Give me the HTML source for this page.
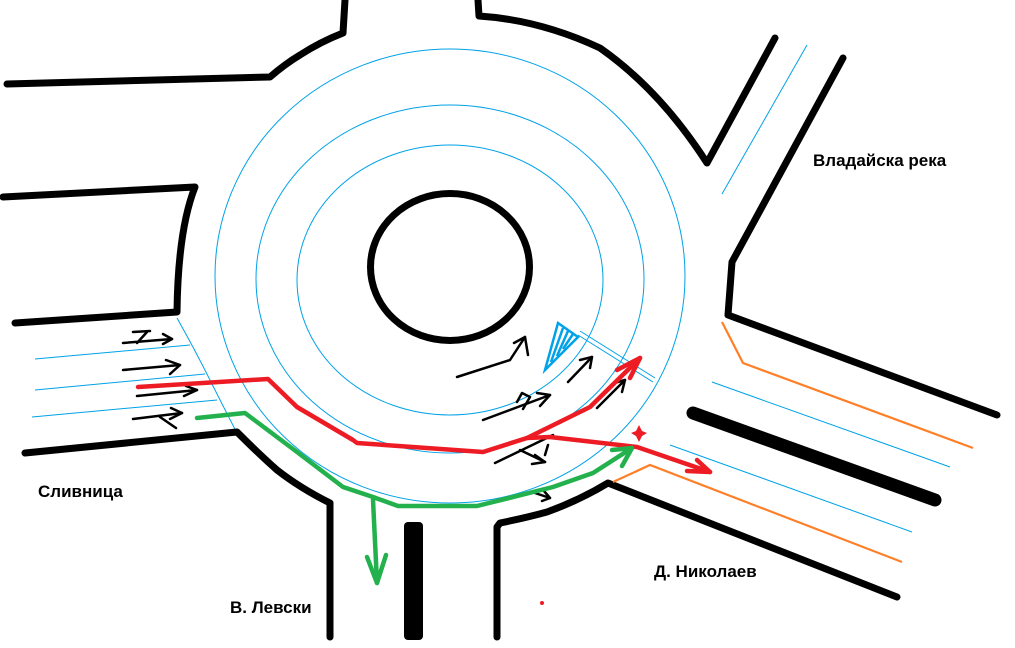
<!DOCTYPE html>
<html><head><meta charset="utf-8"><style>
html,body{margin:0;padding:0;background:#fff;}
svg{display:block;}
text{font-family:"Liberation Sans","DejaVu Sans",sans-serif;font-weight:bold;font-size:17px;fill:#000;}
</style></head><body>
<svg width="1015" height="648" viewBox="0 0 1015 648" xmlns="http://www.w3.org/2000/svg">
<rect width="1015" height="648" fill="#fff"/>
<g fill="none" stroke="#00a2e8" stroke-width="1">
<ellipse cx="450" cy="276" rx="235" ry="227"/>
<ellipse cx="450" cy="279" rx="194" ry="174"/>
<ellipse cx="450" cy="280" rx="153" ry="135"/>
<line x1="35" y1="359" x2="190" y2="345"/>
<line x1="35" y1="390" x2="205" y2="374"/>
<line x1="32" y1="417" x2="217" y2="400"/>
<path d="M177,318 Q195,350 210,380 Q225,410 237,433"/>
<line x1="807" y1="45" x2="722" y2="194"/>
<line x1="712" y1="382" x2="950" y2="467"/>
<line x1="670" y1="445" x2="912" y2="532"/>
<line x1="578" y1="335" x2="653" y2="382"/>
<line x1="580" y1="331" x2="655" y2="378"/>
</g>
<g fill="none" stroke="#00a2e8" stroke-width="2.5">
<polygon points="558,323 578,337 545,370"/>
<line x1="563" y1="328" x2="551" y2="362"/>
<line x1="568" y1="331" x2="557" y2="356"/>
<line x1="573" y1="334" x2="563" y2="349"/>
</g>
<ellipse cx="450" cy="267" rx="79.5" ry="73.5" fill="none" stroke="#000" stroke-width="7"/>
<g fill="none" stroke="#000" stroke-width="7" stroke-linecap="round" stroke-linejoin="round">
<path d="M7,84 L270,77 Q285,64 300,55 Q320,42 343,33 L345,0"/>
<path d="M478,0 L479,16 Q540,20 600,48 Q660,90 707,163 L775,38"/>
<path d="M843,58 L732,262 L728,315 L997,415"/>
<path d="M3,197 L195,187 Q178,230 177,312 L15,323"/>
<path d="M25,453 L237,432 Q260,455 277,470 Q300,488 330,503 L330,637"/>
<path d="M497,637 L497,527 L500,523 Q525,518 547,512 Q580,500 608,483 L897,597"/>
</g>
<rect x="404" y="522" width="19" height="118" rx="4" fill="#000"/>
<line x1="693" y1="413" x2="935" y2="500" stroke="#000" stroke-width="13" stroke-linecap="round"/>
<g fill="none" stroke="#ff7f27" stroke-width="2.2">
<polyline points="722,322 743,363 973,448"/>
<polyline points="613,482 650,465 902,562"/>
</g>
<g fill="none" stroke="#000" stroke-width="2.5" stroke-linecap="round" stroke-linejoin="round">
<line x1="123" y1="343" x2="172" y2="339"/><polyline points="163,334 172,339 163,344"/>
<line x1="133" y1="332" x2="150" y2="331"/><line x1="147" y1="332" x2="137" y2="343"/>
<line x1="123" y1="370" x2="180" y2="365"/><polyline points="166,360 180,365 170,374"/>
<line x1="137" y1="396" x2="197" y2="390"/><polyline points="186,386 197,390 184,396"/>
<line x1="133" y1="419" x2="182" y2="413"/><polyline points="171,408 182,413 170,419"/><line x1="160" y1="417" x2="176" y2="428"/>
<polyline points="457,377 510,360 525,337"/><polyline points="514,343 525,337 528,355"/>
<line x1="568" y1="382" x2="592" y2="357"/><polyline points="580,360 592,357 590,368"/>
<line x1="597" y1="408" x2="625" y2="380"/><polyline points="614,383 625,380 622,392"/>
<line x1="483" y1="420" x2="550" y2="395"/><polyline points="537,393 550,395 540,406"/><polyline points="517,402 522,393 530,397 523,409"/>
<line x1="495" y1="463" x2="553" y2="435"/><line x1="520" y1="450" x2="545" y2="462"/><polyline points="535,455 545,462 532,464"/><line x1="548" y1="445" x2="545" y2="455"/>
<line x1="535" y1="493" x2="550" y2="498"/><polyline points="544,491 550,498 542,501"/>
</g>
<g fill="none" stroke="#ed1c24" stroke-width="4.5" stroke-linecap="round" stroke-linejoin="round">
<polyline points="138,387 268,379 297,407 353,440 357,443 483,452 527,438 590,407 640,358"/>
<polyline points="617,370 640,358 630,378"/>
<polyline points="527,438 550,437 637,447 710,472"/>
<polyline points="687,471 710,472 697,460"/>
</g>
<path d="M639,425 L642,431 L647,433 L642,436 L639,442 L636,436 L631,433 L636,431 Z" fill="#ed1c24"/>
<circle cx="542" cy="603" r="2" fill="#ed1c24"/>
<g fill="none" stroke="#22b14c" stroke-width="4.5" stroke-linecap="round" stroke-linejoin="round">
<polyline points="197,418 245,413 297,452 343,487 373,497 398,506 477,506 553,487 593,473 632,448"/>
<polyline points="612,450 632,448 622,466"/>
<polyline points="373,500 377,583"/>
<polyline points="367,557 377,583 386,555"/>
</g>
<text x="38" y="497">Сливница</text>
<text x="230" y="613">В. Левски</text>
<text x="813" y="166">Владайска река</text>
<text x="654" y="577">Д. Николаев</text>
</svg>
</body></html>
